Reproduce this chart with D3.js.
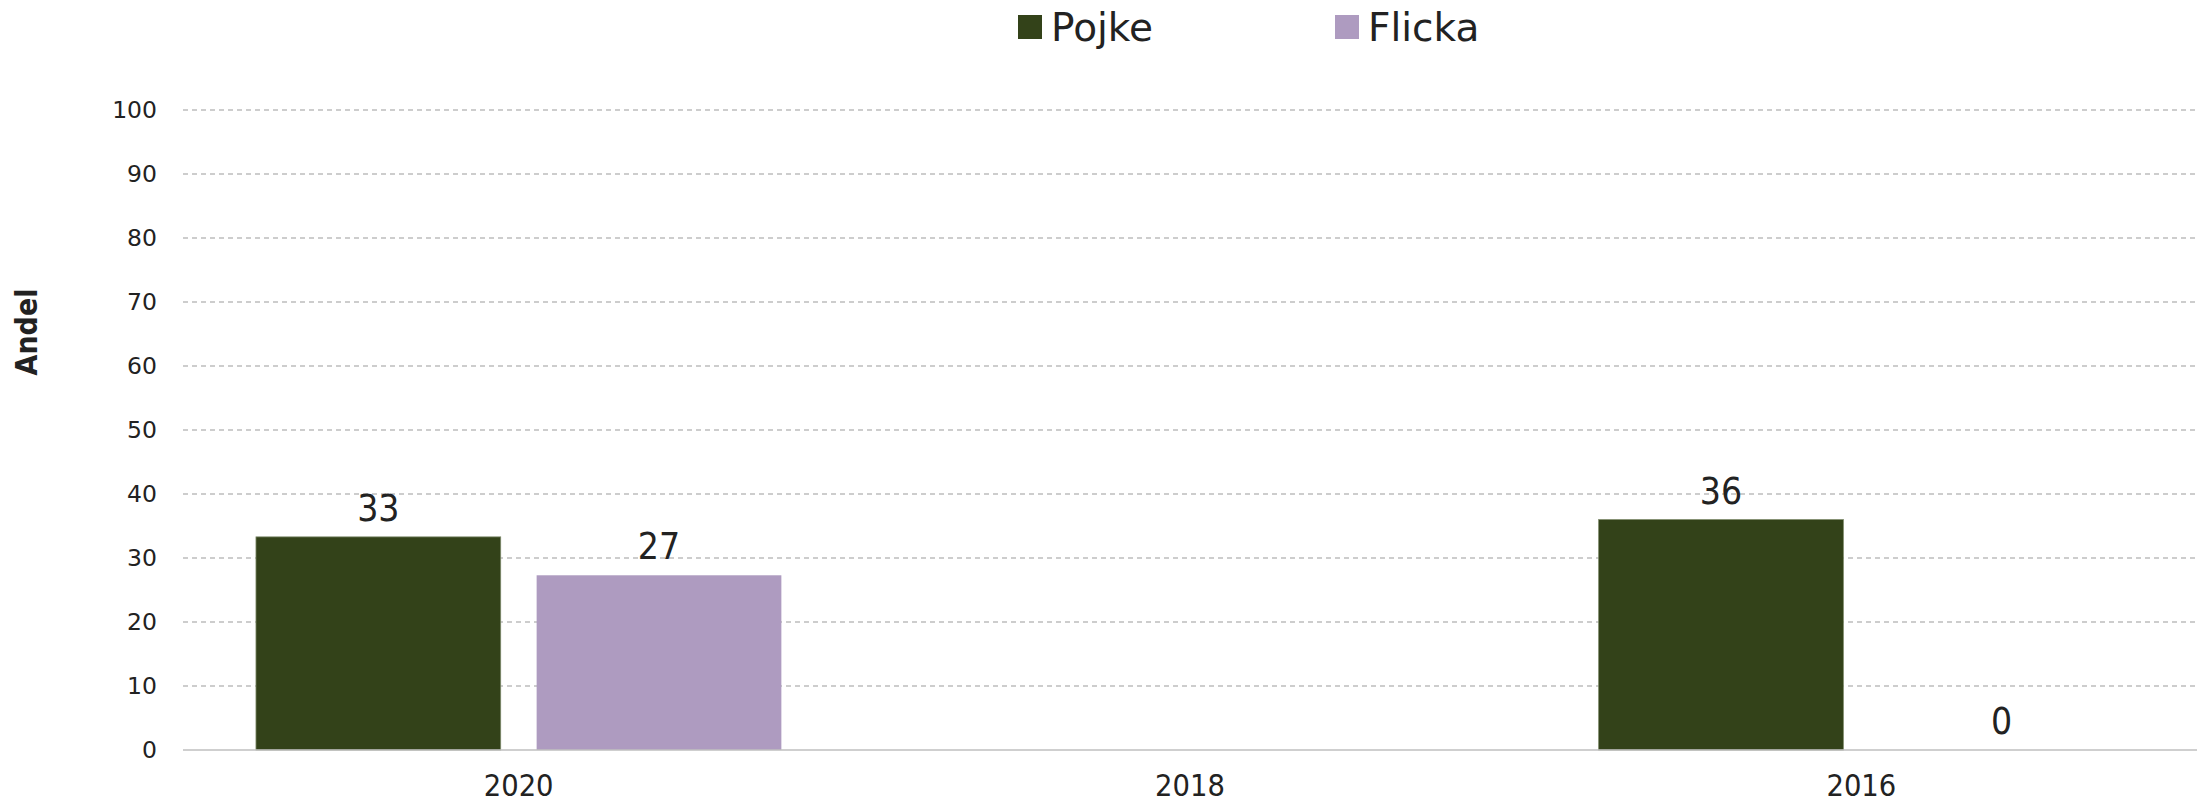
<!DOCTYPE html>
<html>
<head>
<meta charset="utf-8">
<script src="https://cdn.jsdelivr.net/npm/d3@7"></script>
<style>
  body { margin: 0; background: #fff; }
</style>
</head>
<body>
<div id="chart"></div>
<script>
const years = ['2020', '2018', '2016'];
const seriesNames = ['Pojke', 'Flicka'];
const pojkeValues = [33.3, null, 36];
const flickaValues = [27.3, null, 0];
const yTicks = [0, 10, 20, 30, 40, 50, 60, 70, 80, 90, 100];
const colors = { Pojke: '#334219', Flicka: '#ae9bc0' };

const W = 2204, H = 805;
const Margin = { Top: 110, Bottom: 55, Left: 183, Right: 7 };
const narrow = 'Liberation Sans Narrow, DejaVu Sans Condensed, sans-serif';

const svg = d3.select('#chart').append('svg')
  .attr('width', W).attr('height', H);

const x = d3.scaleBand().domain(years)
  .range([Margin.Left, W - Margin.Right]).padding(0);
const xs = d3.scaleBand().domain(seriesNames)
  .range([0, x.bandwidth()]).paddingInner(0.128).paddingOuter(0.26);
const y = d3.scaleLinear().domain([0, 100]).range([H - Margin.Bottom, Margin.Top]);

// gridlines
svg.append('g').selectAll('line')
  .data(yTicks.filter(d => d > 0))
  .enter().append('line')
  .attr('x1', Margin.Left).attr('x2', W - Margin.Right)
  .attr('y1', d => y(d)).attr('y2', d => y(d))
  .attr('stroke', '#bdbdbd').attr('stroke-width', 1.3)
  .attr('stroke-dasharray', '5,4');

// y axis labels
const yAxis = svg.append('g')
  .attr('transform', `translate(${Margin.Left - 26},0)`)
  .call(d3.axisLeft(y).tickValues(yTicks).tickSize(0).tickPadding(0));
yAxis.select('.domain').remove();
yAxis.selectAll('text')
  .attr('font-family', 'DejaVu Sans, Verdana, sans-serif')
  .attr('font-size', 23.5).attr('fill', '#222');

// bars
const rows = years.map((yr, i) => ({ year: yr, Pojke: pojkeValues[i], Flicka: flickaValues[i] }));
const groups = svg.append('g').selectAll('g')
  .data(rows).enter().append('g')
  .attr('transform', d => `translate(${x(d.year)},0)`);

seriesNames.forEach(name => {
  const sel = groups.filter(d => d[name] !== null);
  sel.append('rect')
    .attr('x', xs(name))
    .attr('y', d => y(d[name]))
    .attr('width', xs.bandwidth())
    .attr('height', d => y(0) - y(d[name]))
    .attr('fill', colors[name])
    .attr('stroke', name === 'Pojke' ? '#7d8a6a' : 'none')
    .attr('stroke-width', 0.8);
  sel.append('text')
    .attr('x', xs(name) + xs.bandwidth() / 2)
    .attr('y', d => y(d[name]) - 16)
    .attr('text-anchor', 'middle')
    .attr('font-family', narrow)
    .attr('font-size', 37).attr('fill', '#222')
    .text(d => Math.round(d[name]));
});

// baseline
svg.append('line')
  .attr('x1', Margin.Left).attr('x2', W - Margin.Right)
  .attr('y1', y(0)).attr('y2', y(0))
  .attr('stroke', '#bfbfbf').attr('stroke-width', 1.5);

// x axis labels
const xAxis = svg.append('g')
  .attr('transform', `translate(0,${y(0)})`)
  .call(d3.axisBottom(x).tickSize(0).tickPadding(24));
xAxis.select('.domain').remove();
xAxis.selectAll('text')
  .attr('font-family', narrow)
  .attr('font-size', 30.5).attr('fill', '#222');

// y title
svg.append('text')
  .attr('transform', `translate(37,332) rotate(-90)`)
  .attr('text-anchor', 'middle')
  .attr('font-family', narrow)
  .attr('font-weight', 'bold')
  .attr('font-size', 30).attr('fill', '#222')
  .text('Andel');

// legend
const legendX = { Pojke: 1018, Flicka: 1335 };
const legend = svg.append('g').selectAll('g')
  .data(seriesNames).enter().append('g')
  .attr('transform', d => `translate(${legendX[d]},15)`);
legend.append('rect')
  .attr('width', 24).attr('height', 24)
  .attr('fill', d => colors[d]);
legend.append('text')
  .attr('x', 33).attr('y', 26)
  .attr('font-family', 'DejaVu Sans, Verdana, sans-serif')
  .attr('font-size', 39).attr('fill', '#222')
  .text(d => d);
</script>
</body>
</html>
